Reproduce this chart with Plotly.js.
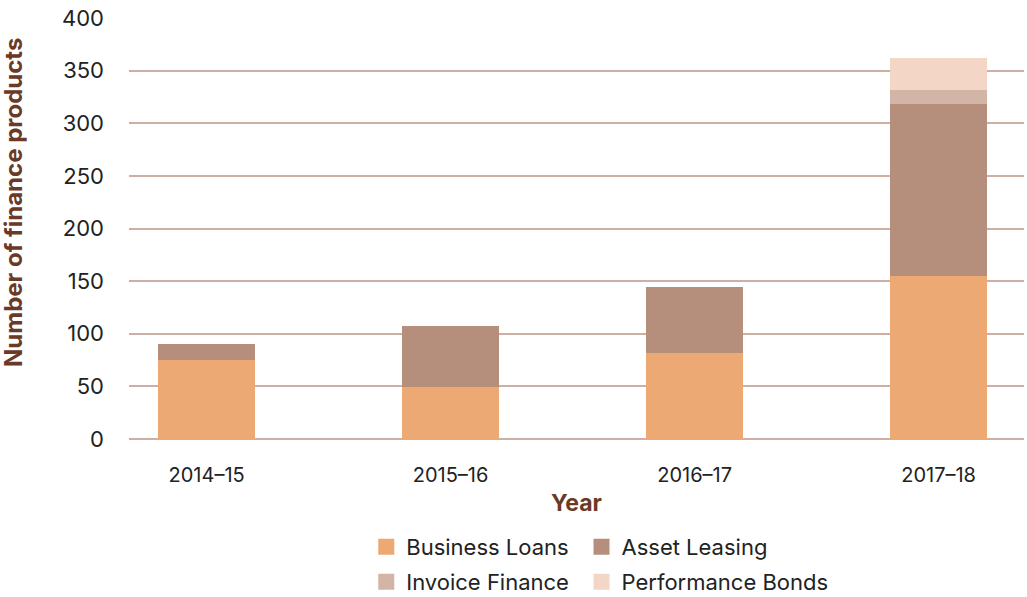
<!DOCTYPE html>
<html><head><meta charset="utf-8">
<script src="https://cdn.plot.ly/plotly-3.0.1.min.js"></script>
<style>html,body{margin:0;padding:0;background:#fff}#chart{width:1027px;height:597px}</style>
</head><body><div id="chart"></div>
<script>
const years = ['2014–15','2015–16','2016–17','2017–18'];
const businessLoans = [75, 49, 82, 155];
const assetLeasing = [15, 58, 62, 163];
const invoiceFinance = [0, 0, 0, 14];
const performanceBonds = [0, 0, 0, 30];
const yTicks = [0,50,100,150,200,250,300,350,400];
const seriesNames = ['Business Loans','Asset Leasing','Invoice Finance','Performance Bonds'];
const seriesColors = ['#eda974','#b68f7c','#d2b5a7','#f3d6c5'];

const FONT = 'Inter, "Open Sans", sans-serif';
const seriesVals = [businessLoans, assetLeasing, invoiceFinance, performanceBonds];
const legendIds = ['legend','legend2','legend3','legend4'];
const data = [];
seriesVals.forEach((vals, i) => {
  data.push({type:'bar', name:seriesNames[i], x:years, y:vals, width:0.3975,
    marker:{color:seriesColors[i], line:{width:0}}, showlegend:false, legendgroup:'g'+i});
});
// legend entries (square swatches), one legend box per grid cell
seriesVals.forEach((vals, i) => {
  data.push({type:'scatter', mode:'markers', name:seriesNames[i], x:[null], y:[null],
    marker:{symbol:'square', size:16, color:seriesColors[i]}, legendgroup:'g'+i,
    legend: legendIds[i]});
});
const legendCommon = {orientation:'h', xref:'paper', yref:'container', xanchor:'left', yanchor:'middle',
  font:{family:FONT, size:22, color:'#222'}, traceorder:'normal',
  bgcolor:'rgba(0,0,0,0)', itemsizing:'trace', itemclick:false};
const col1 = (366-129)/894, col2 = (581-129)/894;
const row1 = 50/597, row2 = 15/597;
const layout = {
  width:1027, height:597,
  margin:{l:129, r:3, t:18, b:158},
  barmode:'stack', showlegend:true,
  paper_bgcolor:'#fff', plot_bgcolor:'#fff',
  font:{family:FONT, color:'#222'},
  xaxis:{type:'category', range:[-0.318, 3.35], showgrid:false, zeroline:false, showline:false,
    ticks:'', tickfont:{family:FONT, size:20, color:'#222'}, ticklabelstandoff:22,
    title:{text:'<b>Year</b>', font:{family:FONT, size:23, color:'#6b3a26'}, standoff:8}},
  yaxis:{range:[0,400], tickvals:yTicks, showgrid:true, gridcolor:'#cdb0a3', gridwidth:2,
    zeroline:true, zerolinecolor:'#cdb0a3', zerolinewidth:2, showline:false, ticks:'',
    tickfont:{family:FONT, size:22, color:'#222'}, ticklabelstandoff:24},
  annotations:[{text:'<b>Number of finance products</b>', textangle:-90, showarrow:false,
    xref:'paper', yref:'paper', x:-129/894 + 13/894, y:(438.7-202)/420.7, xanchor:'center', yanchor:'middle',
    font:{family:FONT, size:24, color:'#6b3a26'}}],
  legend:Object.assign({}, legendCommon, {x:col1, y:row1}),
  legend2:Object.assign({}, legendCommon, {x:col2, y:row1}),
  legend3:Object.assign({}, legendCommon, {x:col1, y:row2}),
  legend4:Object.assign({}, legendCommon, {x:col2, y:row2})
};
Plotly.newPlot('chart', data, layout, {displayModeBar:false, staticPlot:true});
</script></body></html>
